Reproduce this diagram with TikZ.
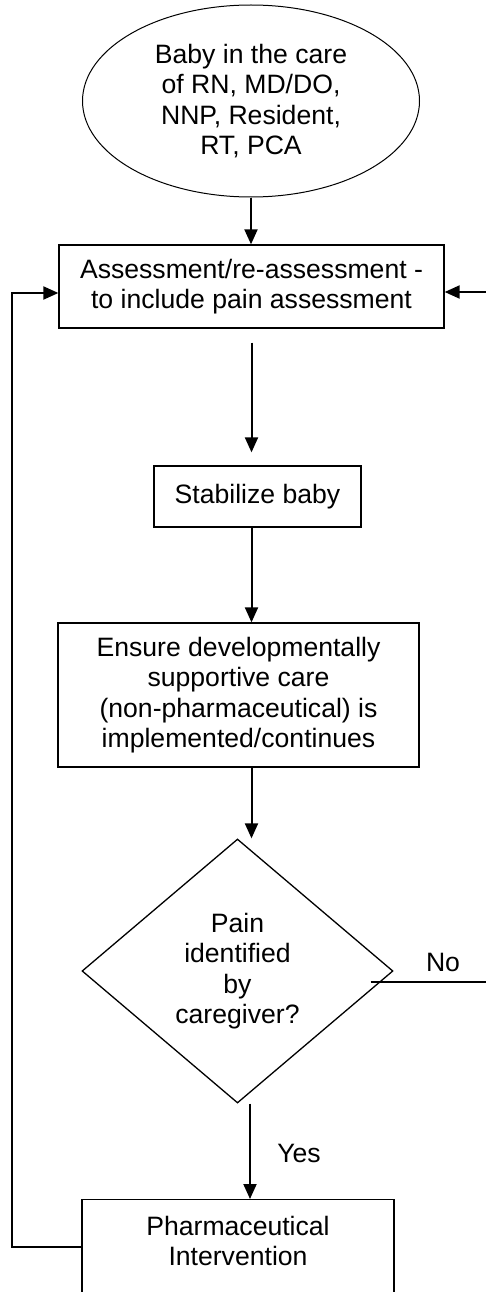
\documentclass[tikz,border=0pt]{standalone}
\usepackage{fontspec}
\setmainfont{Liberation Sans}
\usetikzlibrary{shapes.geometric,arrows.meta,calc}
\tikzset{
  txt/.style={font=\fontsize{26.6}{30.5}\selectfont, align=center, inner sep=0pt},
  boxnode/.style={txt, draw, line width=1.3pt, rectangle},
  conn/.style={line width=2pt, -{Triangle[length=15pt,width=13pt]}},
  plainline/.style={line width=2pt},
}
\begin{document}
\begin{tikzpicture}[x=1pt,y=-1pt]
\useasboundingbox (0,0) rectangle (486,1292);
\clip (0,0) rectangle (486,1292);
\node[txt, draw, ellipse, line width=1pt, minimum width=337, minimum height=192] (start) at (251,101)
  {Baby in the care\\of RN, MD/DO,\\NNP, Resident,\\RT, PCA};
\node[boxnode, minimum width=385, minimum height=83] (assess) at (251.5,286.5)
  {Assessment/re-assessment -\\to include pain assessment};
\node[boxnode, minimum width=207, minimum height=61] (stab) at (257.5,496.5) {Stabilize baby};
\node[boxnode, minimum width=361, minimum height=144] (ensure) at (238.5,695)
  {Ensure developmentally\\supportive care\\(non-pharmaceutical) is\\implemented/continues};
\node[txt, draw, diamond, line width=1.3pt, minimum width=311, minimum height=264] (dec) at (237.5,971)
  {Pain\\identified\\by\\caregiver?};
\node[boxnode, anchor=north, minimum width=312, minimum height=130] (pharma) at (238,1199) {};
\node[txt] (pharmatxt) at (238,1241) {Pharmaceutical\\Intervention};
\node[txt] (nolab) at (443,962) {No};
\node[txt] (yeslab) at (299,1153) {Yes};
\coordinate (fbl) at (12,1247);
\coordinate (fbt) at (12,293);
\coordinate (rin) at (486,292);
\coordinate (noR) at (486,982);
\draw[conn] (start.south) -- (start.south |- assess.north);
\draw[conn, shorten <=14pt, shorten >=13pt] (assess.south) -- (assess.south |- stab.north);
\draw[conn] (assess.south |- stab.south) -- (assess.south |- ensure.north);
\draw[conn] ([xshift=13pt]ensure.south) -- ([xshift=13pt]ensure.south |- dec.north);
\draw[conn] ([xshift=12.5pt]dec.south) -- ([xshift=12pt]pharma.north);
\draw[conn] (pharma.west |- fbl) -- (fbl) -- (fbt) -- (assess.west |- fbt);
\draw[conn] (rin) -- (assess.east |- rin);
\draw[line width=1.5pt] ($(dec.east |- noR)+(-23,0)$) -- (noR);
\end{tikzpicture}
\end{document}
